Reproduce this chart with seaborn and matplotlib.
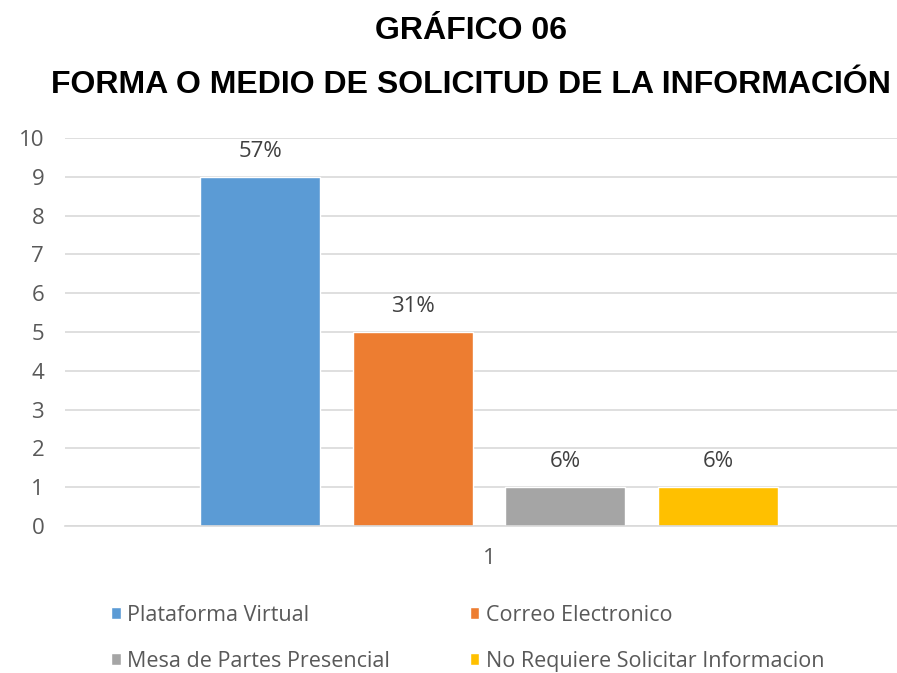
import pandas as pd
import seaborn as sns
import matplotlib.pyplot as plt
from matplotlib.patches import Patch

# data
grupo = ["1", "1", "1", "1"]
medios = ["Plataforma Virtual", "Correo Electronico",
          "Mesa de Partes Presencial", "No Requiere Solicitar Informacion"]
valores = [9, 5, 1, 1]
porcentajes = ["57%", "31%", "6%", "6%"]
colores = ["#5B9BD5", "#ED7D31", "#A5A5A5", "#FFC000"]

df = pd.DataFrame({"grupo": grupo, "medio": medios, "valor": valores})

sns.set_style("white")
plt.rcParams['font.family'] = ['Open Sans', 'DejaVu Sans']

fig = plt.figure(figsize=(8.97, 6.73), dpi=100)
ax = fig.add_axes([65 / 897, 1 - 526 / 673, 848 / 897, (526 - 138) / 673])

sns.barplot(data=df, x="grupo", y="valor", hue="medio", hue_order=medios,
            palette=colores, width=0.72, gap=0.216, saturation=1,
            legend=False, ax=ax)

ax.set_ylim(0, 10)
ax.set_xlim(-0.5, 0.5)
ax.set_yticks(range(0, 11))
ax.yaxis.grid(True, color="#D9D9D9", linewidth=1.2)
ax.set_axisbelow(True)
for s in ["top", "right", "left"]:
    ax.spines[s].set_visible(False)
ax.spines["bottom"].set_color("#D9D9D9")
ax.spines["bottom"].set_linewidth(1.2)
ax.tick_params(axis="both", length=0, colors="#595959", labelsize=16)
ax.tick_params(axis="y", pad=15)
ax.tick_params(axis="x", pad=16)
ax.set_xlabel("")
ax.set_ylabel("")

# percent labels above bars
for cont, lab in zip(ax.containers, porcentajes):
    ax.bar_label(cont, labels=[lab], padding=11, fontsize=16, color="#404040")

# titles
fig.text(471 / 897, 1 - 31 / 673, "GRÁFICO 06", ha="center", va="center",
         fontsize=23, fontweight="bold", family="Liberation Sans", color="black")
fig.text(471 / 897, 1 - 85 / 673, "FORMA O MEDIO DE SOLICITUD DE LA INFORMACIÓN",
         ha="center", va="center", fontsize=23, fontweight="bold",
         family="Liberation Sans", color="black")

# legend, row-major order like the original
orden = [0, 2, 1, 3]
handles = [Patch(facecolor=colores[i]) for i in orden]
labels = [medios[i] for i in orden]
fig.legend(handles, labels, ncol=2, loc="upper left",
           bbox_to_anchor=(98 / 897, 1 - 592 / 673), frameon=False,
           fontsize=15.5, labelcolor="#595959", handlelength=0.45,
           handleheight=0.45, handletextpad=0.3, columnspacing=3.7,
           labelspacing=1.15, borderaxespad=0.2)

fig.savefig("out.png", dpi=100)
